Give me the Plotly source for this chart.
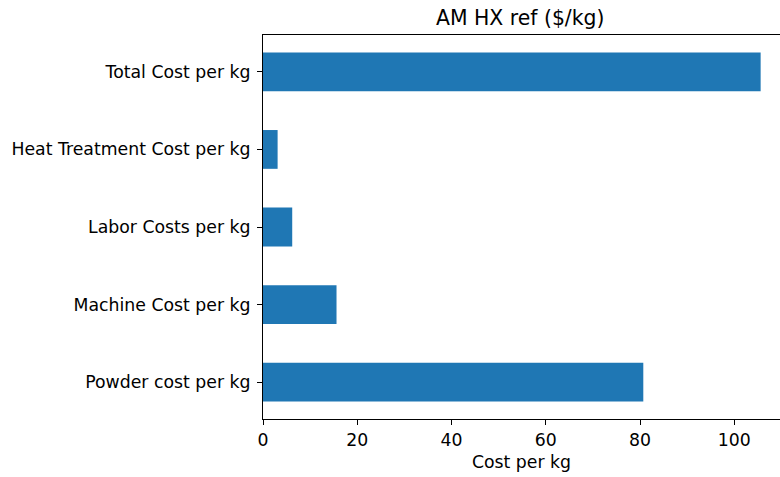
import plotly.graph_objects as go

# Cost components (bottom to top)
categories = [
    "Powder cost per kg",
    "Machine Cost per kg",
    "Labor Costs per kg",
    "Heat Treatment Cost per kg",
    "Total Cost per kg",
]
costs = [80.7, 15.6, 6.2, 3.1, 105.6]

W, H = 780, 477
left, right, top, bottom = 263, 0, 35, 58

fig = go.Figure(
    go.Bar(
        x=costs,
        y=categories,
        orientation="h",
        width=0.5,
        marker=dict(color="#1f77b4", line=dict(width=0)),
    )
)

font = dict(family="DejaVu Sans", size=17.3, color="#000000")

fig.update_layout(
    width=W,
    height=H,
    margin=dict(l=left, r=right, t=top, b=bottom, pad=0),
    plot_bgcolor="white",
    paper_bgcolor="white",
    showlegend=False,
    font=font,
    annotations=[
        dict(
            text="AM HX ref ($/kg)",
            xref="paper",
            yref="paper",
            x=(520 - left) / (W - left),
            y=1,
            yshift=3,
            xanchor="center",
            yanchor="bottom",
            showarrow=False,
            font=dict(family="DejaVu Sans", size=20.4, color="#000000"),
        )
    ],
)

fig.update_xaxes(
    range=[0, (W - left) / 4.7125],
    tickvals=[0, 20, 40, 60, 80, 100],
    showgrid=False,
    zeroline=False,
    showline=True,
    linecolor="#000000",
    linewidth=1.1,
    mirror=True,
    ticks="outside",
    ticklen=5,
    tickwidth=1.1,
    tickcolor="#000000",
    tickfont=font,
    title=dict(text="Cost per kg", font=font, standoff=7),
)

fig.update_yaxes(
    type="category",
    categoryorder="array",
    categoryarray=categories,
    range=[-0.475, 4.475],
    showgrid=False,
    zeroline=False,
    showline=True,
    linecolor="#000000",
    linewidth=1.1,
    mirror=False,
    ticks="outside",
    ticklen=5,
    tickwidth=1.1,
    tickcolor="#000000",
    tickfont=font,
    ticklabelstandoff=3,
)

fig.write_html("out.html")
